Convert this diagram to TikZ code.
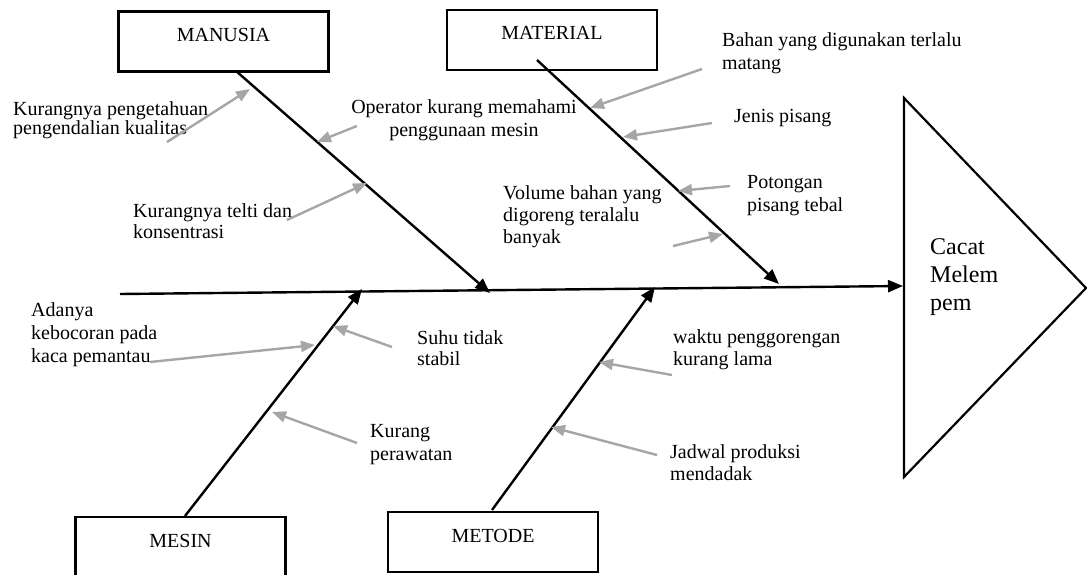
\documentclass[tikz,border=0pt]{standalone}
\usepackage{fontspec}
\setmainfont{Liberation Serif}
\usetikzlibrary{arrows.meta}
\definecolor{garrow}{RGB}{166,166,166}
\tikzset{
  catbox/.style={draw, line width=2.2pt, minimum width=210pt, minimum height=60pt, inner sep=0pt,
    text height=9pt, text depth=9pt, font=\fontsize{20}{22}\selectfont},
  bone/.style={line width=2.4pt, -{Triangle[length=15pt,width=12pt]}},
  cause/.style={draw=garrow, line width=2.4pt, -{Triangle[length=14pt,width=11pt]}},
  lbl/.style={anchor=base west, inner sep=0pt, align=left, font=\fontsize{20}{22.5}\selectfont},
}
\begin{document}
\begin{tikzpicture}[x=1pt,y=-1pt]
\useasboundingbox (0,0) rectangle (1087,575);
\clip (0,0) rectangle (1087,575);
% category boxes
\node[catbox] (manusia) at (223.5,41.5) {MANUSIA};
\node[catbox] (material) at (552,40) {MATERIAL};
\node[catbox] (mesin) at (180.5,547) {MESIN};
\node[catbox] (metode) at (493,542) {METODE};
% head
\coordinate (ht) at (904,98);
\coordinate (hb) at (904,477);
\coordinate (hp) at (1086,288);
\draw[line width=2.2pt, line join=miter] (ht) -- (hp) -- (hb) -- cycle;
\node[lbl, font=\fontsize{24}{28}\selectfont] (effect) at (930,310) {Cacat\\Melem\\pem};
% spine
\coordinate (sp0) at (120,294);
\coordinate (sp1) at (903,286);
\draw[bone] (sp0) -- (sp1);
% bones
\coordinate (b1s) at (236,71);  \coordinate (b1e) at (490,293);
\coordinate (b2s) at (537,60);  \coordinate (b2e) at (779,284);
\coordinate (b3s) at (185,516); \coordinate (b3e) at (362,289);
\coordinate (b4s) at (492,510); \coordinate (b4e) at (655,287);
\draw[bone] (b1s) -- (b1e);
\draw[bone] (b2s) -- (b2e);
\draw[bone] (b3s) -- (b3e);
\draw[bone] (b4s) -- (b4e);
% labels (anchor = baseline of the last line)
\node[lbl, font=\fontsize{20}{16}\selectfont] (l1) at (13,135) {Kurangnya pengetahuan\\pengendalian kualitas};
\node[lbl, font=\fontsize{20}{21.5}\selectfont] (l2) at (133,238.5) {Kurangnya telti dan\\konsentrasi};
\node[lbl, anchor=base, align=center, font=\fontsize{20}{23}\selectfont] (l3) at (464,137) {Operator kurang memahami\\penggunaan mesin};
\node[lbl, font=\fontsize{20}{23}\selectfont] (l4) at (722,70) {Bahan yang digunakan terlalu\\matang};
\node[lbl] (l5) at (734,123) {Jenis pisang};
\node[lbl, font=\fontsize{20}{23}\selectfont] (l6) at (747,211) {Potongan\\pisang tebal};
\node[lbl, font=\fontsize{20}{22}\selectfont] (l7) at (503,243) {Volume bahan yang\\digoreng teralalu\\banyak};
\node[lbl, font=\fontsize{20}{23}\selectfont] (l8) at (31,362) {Adanya\\kebocoran pada\\kaca pemantau};
\node[lbl, font=\fontsize{20}{21.5}\selectfont] (l9) at (417,365.5) {Suhu tidak\\stabil};
\node[lbl, font=\fontsize{20}{23}\selectfont] (l10) at (370,460) {Kurang\\perawatan};
\node[lbl, font=\fontsize{20}{22}\selectfont] (l11) at (673,365) {waktu penggorengan\\kurang lama};
\node[lbl, font=\fontsize{20}{22}\selectfont] (l12) at (670,480) {Jadwal produksi\\mendadak};
% cause arrows
\coordinate (c1s) at (167,142);  \coordinate (c1e) at (250,89);
\coordinate (c2s) at (357,126);  \coordinate (c2e) at (317,142);
\coordinate (c3s) at (287,220);  \coordinate (c3e) at (367,183);
\coordinate (c4s) at (702,69);   \coordinate (c4e) at (590,108);
\coordinate (c5s) at (712,123);  \coordinate (c5e) at (623,137);
\coordinate (c6s) at (730,186);  \coordinate (c6e) at (678,191);
\coordinate (c7s) at (673,246);  \coordinate (c7e) at (723,234);
\coordinate (c8s) at (150,362);  \coordinate (c8e) at (315,345);
\coordinate (c9s) at (392,347);  \coordinate (c9e) at (333,326);
\coordinate (c10s) at (357,443); \coordinate (c10e) at (272,412);
\coordinate (c11s) at (672,375); \coordinate (c11e) at (599,362);
\coordinate (c12s) at (657,455); \coordinate (c12e) at (551,427);
\foreach \i in {1,...,12} { \draw[cause] (c\i s) -- (c\i e); }
\end{tikzpicture}
\end{document}
